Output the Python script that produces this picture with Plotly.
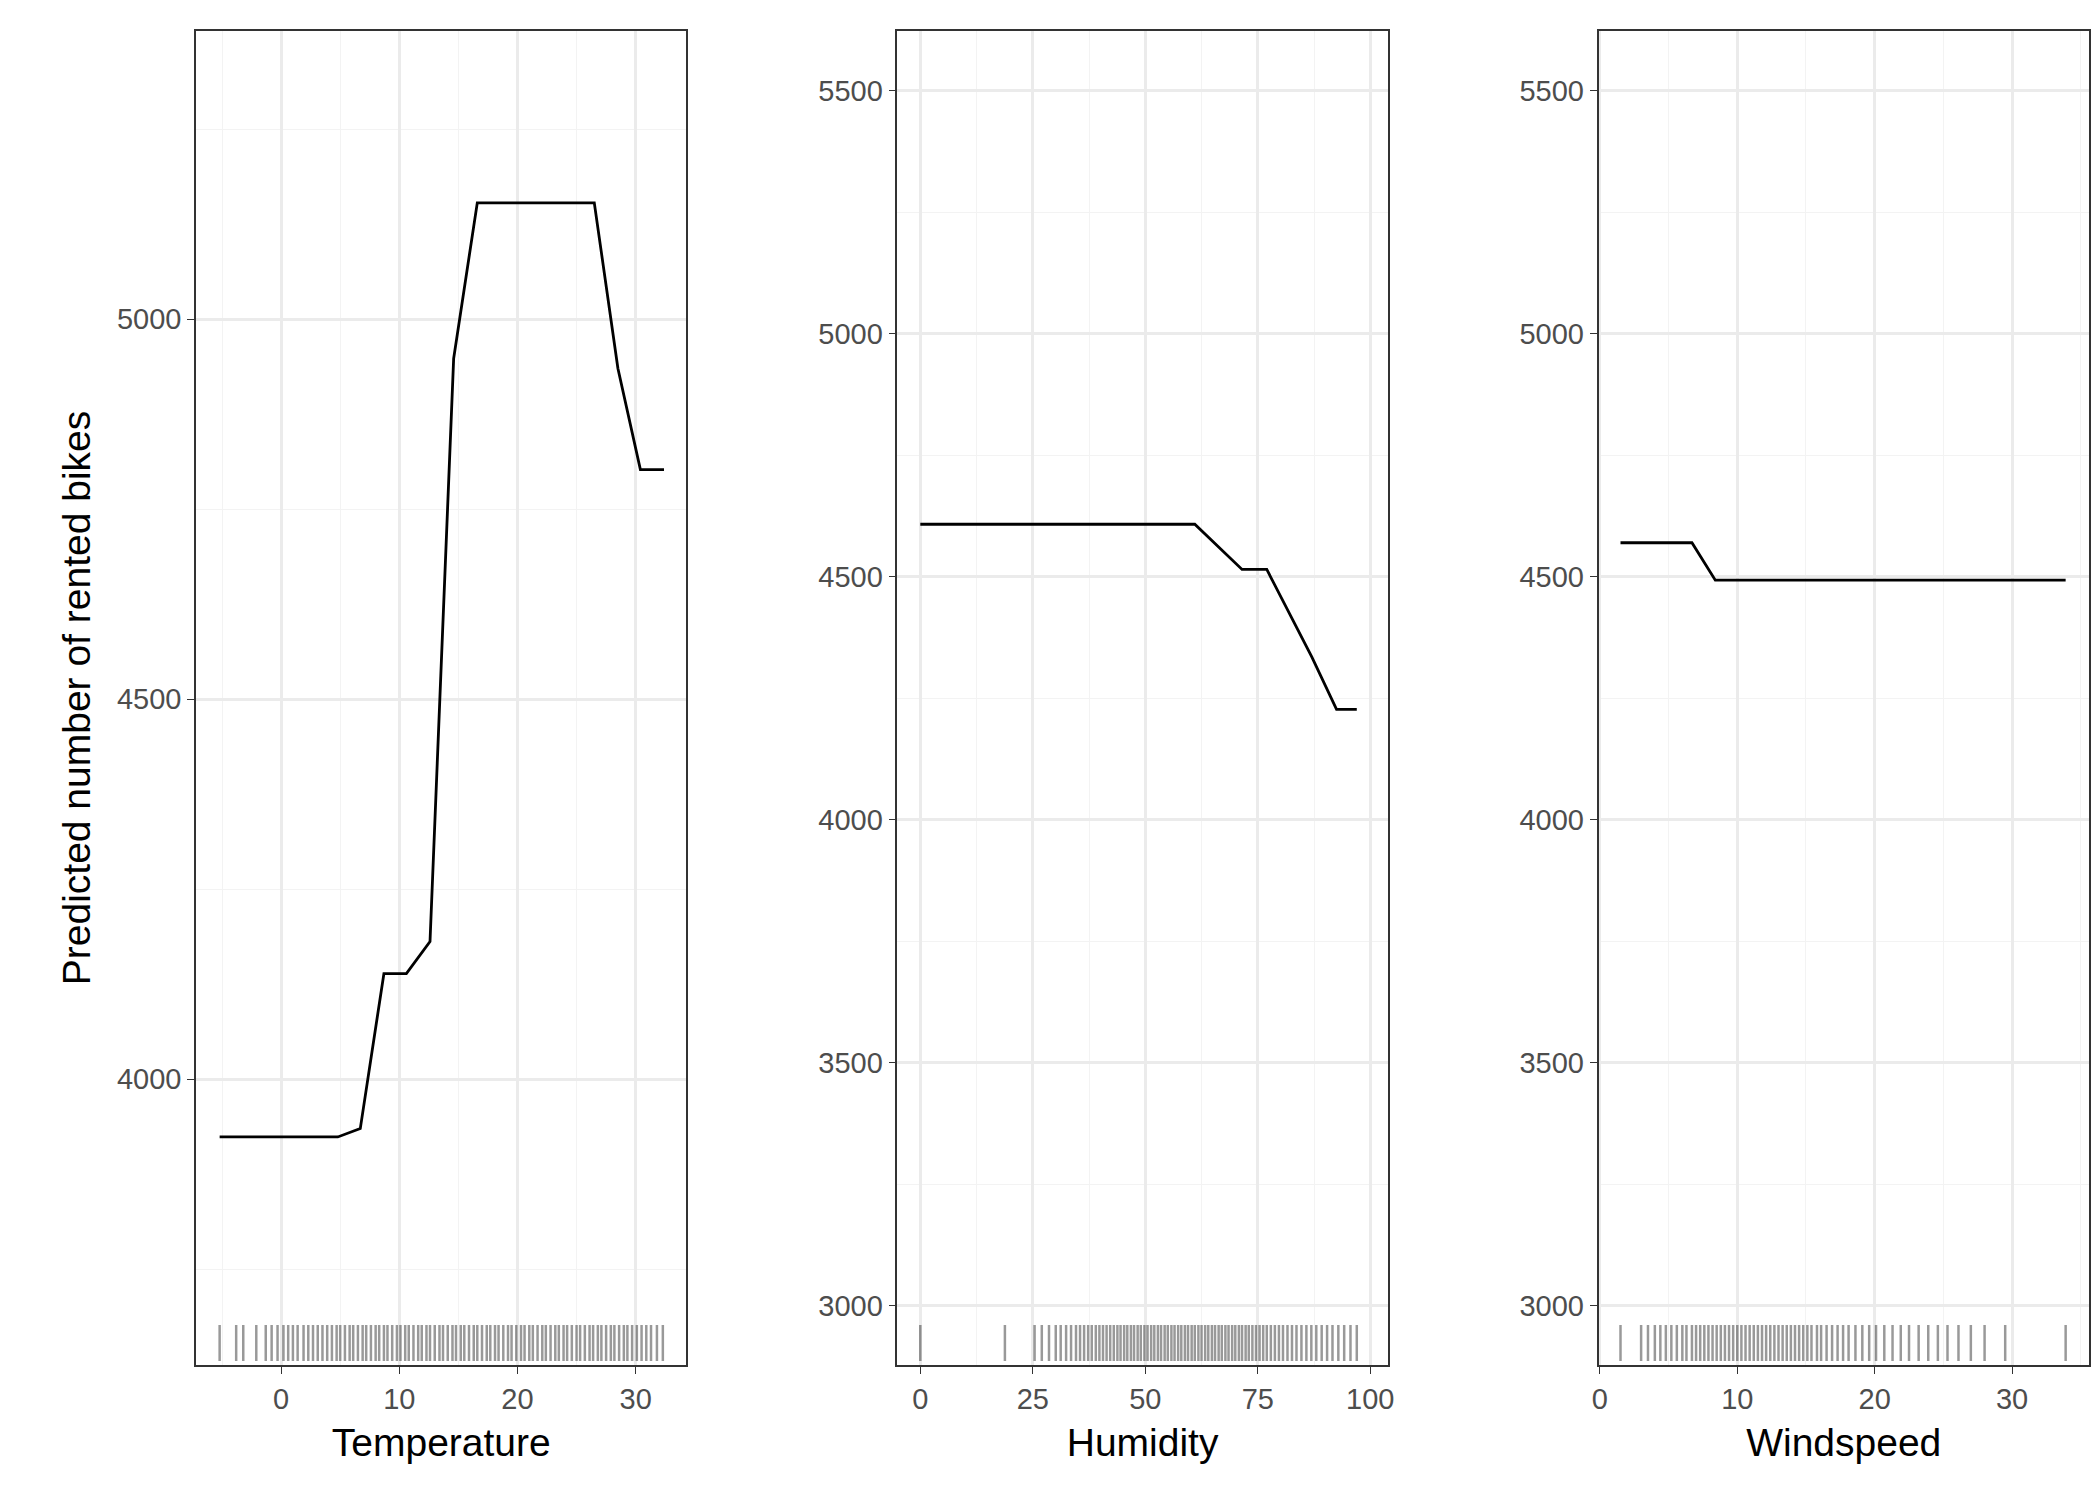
import plotly.graph_objects as go
from plotly.subplots import make_subplots

temp_x = [-5.2, 4.8, 6.7, 8.7, 10.6, 12.6, 14.6, 16.6, 26.5, 28.5, 30.4, 32.4]
temp_y = [3924, 3924, 3935, 4139, 4139, 4181, 4948, 5153, 5153, 4935, 4802, 4802]
hum_x = [0, 61, 71.5, 77, 87, 92.5, 97]
hum_y = [4608, 4608, 4515, 4515, 4335, 4227, 4227]
wind_x = [1.5, 6.7, 8.4, 33.9]
wind_y = [4570, 4570, 4493, 4493]

temp_rug = [-5.2, -3.8, -3.2, -2.1, -1.3, -0.8, -0.3, 0.2, 0.6, 1.0, 1.4, 1.9, 2.3, 2.7, 3.1, 3.5, 3.9, 4.3,
            4.7, 5.0, 5.4, 5.8, 6.1, 6.5, 6.9, 7.2, 7.6, 8.0, 8.3, 8.7, 9.0, 9.4, 9.8, 10.1, 10.5, 10.8, 11.2,
            11.6, 11.9, 12.3, 12.6, 13.0, 13.4, 13.7, 14.1, 14.5, 14.8, 15.2, 15.5, 15.9, 16.3, 16.6, 17.0,
            17.4, 17.7, 18.1, 18.4, 18.8, 19.2, 19.5, 19.9, 20.3, 20.6, 21.0, 21.3, 21.7, 22.1, 22.4, 22.8,
            23.2, 23.5, 23.9, 24.2, 24.6, 25.0, 25.3, 25.7, 26.1, 26.4, 26.8, 27.1, 27.5, 27.9, 28.2, 28.6,
            29.0, 29.3, 29.7, 30.1, 30.5, 30.9, 31.3, 31.8, 32.3]
hum_rug = [0, 18.8, 25.4, 27.0, 28.6, 30.1, 31.2, 32.4, 33.5, 34.6, 35.5, 36.4, 37.3, 38.1, 39.0, 39.8,
           40.6, 41.4, 42.2, 43.0, 43.8, 44.5, 45.3, 46.0, 46.8, 47.5, 48.3, 49.0, 49.8, 50.5, 51.3, 52.0,
           52.8, 53.5, 54.3, 55.0, 55.8, 56.5, 57.3, 58.0, 58.8, 59.5, 60.3, 61.0, 61.8, 62.5, 63.3, 64.0,
           64.8, 65.5, 66.3, 67.0, 67.8, 68.5, 69.3, 70.0, 70.8, 71.5, 72.3, 73.0, 73.8, 74.6, 75.4, 76.2,
           77.0, 77.9, 78.8, 79.7, 80.6, 81.6, 82.6, 83.6, 84.7, 85.8, 86.9, 88.0, 89.2, 90.4, 91.6, 92.9,
           94.2, 95.6, 97.0]
wind_rug = [1.5, 3.0, 3.5, 4.0, 4.4, 4.8, 5.2, 5.6, 6.0, 6.3, 6.7, 7.0, 7.3, 7.6, 7.9, 8.2, 8.5, 8.8, 9.1,
            9.4, 9.7, 10.0, 10.3, 10.6, 10.9, 11.2, 11.5, 11.8, 12.1, 12.4, 12.7, 13.0, 13.3, 13.6, 13.9,
            14.2, 14.5, 14.8, 15.1, 15.4, 15.8, 16.1, 16.5, 16.9, 17.3, 17.7, 18.1, 18.6, 19.1, 19.6, 20.1,
            20.7, 21.3, 21.9, 22.5, 23.2, 23.9, 24.6, 25.3, 26.1, 27.0, 28.0, 29.5, 33.9]

fig = make_subplots(rows=1, cols=3)
panels = [(temp_x, temp_y, temp_rug, "Temperature", [-7.2, 34.3], [3624, 5379], 10, 500, 250),
          (hum_x, hum_y, hum_rug, "Humidity", [-5.1, 103.9], [2878, 5623], 25, 500, 250),
          (wind_x, wind_y, wind_rug, "Windspeed", [-0.1, 35.6], [2878, 5623], 10, 500, 250)]
domains = [[0, 0.2591], [0.3705, 0.6296], [0.7409, 1.0]]
shapes = []
for i, (x, y, rug, title, xr, yr, xd, yd, ymd) in enumerate(panels, start=1):
    fig.add_trace(go.Scatter(x=x, y=y, mode="lines", line=dict(color="black", width=2.8),
                             showlegend=False), row=1, col=i)
    xref = "x" if i == 1 else f"x{i}"
    yref = "y domain" if i == 1 else f"y{i} domain"
    for v in rug:
        shapes.append(dict(type="line", xref=xref, yref=yref, x0=v, x1=v, y0=0.003, y1=0.03,
                           line=dict(color="rgba(0,0,0,0.4)", width=2.5)))
    fig.update_xaxes(domain=domains[i - 1], range=xr, dtick=xd, tick0=0,
                     title=dict(text=title, font=dict(size=39, color="black")),
                     showline=True, mirror=True, linecolor="#333", linewidth=1.5,
                     ticks="outside", ticklen=7, tickcolor="#333", gridcolor="#EBEBEB", gridwidth=2.5,
                     minor=dict(dtick=xd / 2, tick0=0, showgrid=True, gridcolor="#F3F3F3", gridwidth=1.3),
                     zeroline=False, row=1, col=i)
    fig.update_yaxes(range=yr, dtick=yd, tick0=0, showline=True, mirror=True, linecolor="#333", linewidth=1.5,
                     ticks="outside", ticklen=7, tickcolor="#333", gridcolor="#EBEBEB", gridwidth=2.5,
                     minor=dict(dtick=ymd, tick0=0, showgrid=True, gridcolor="#F3F3F3", gridwidth=1.3),
                     zeroline=False, row=1, col=i)
fig.update_yaxes(title=dict(text="Predicted number of rented bikes", font=dict(size=39, color="black"),
                            standoff=14), row=1, col=1)
fig.update_layout(width=2100, height=1500, plot_bgcolor="white", paper_bgcolor="white",
                  font=dict(family="Liberation Sans, Arial", size=29, color="#4D4D4D"),
                  margin=dict(l=188, r=17, t=23, b=143), shapes=shapes)
fig.write_html("out.html")
